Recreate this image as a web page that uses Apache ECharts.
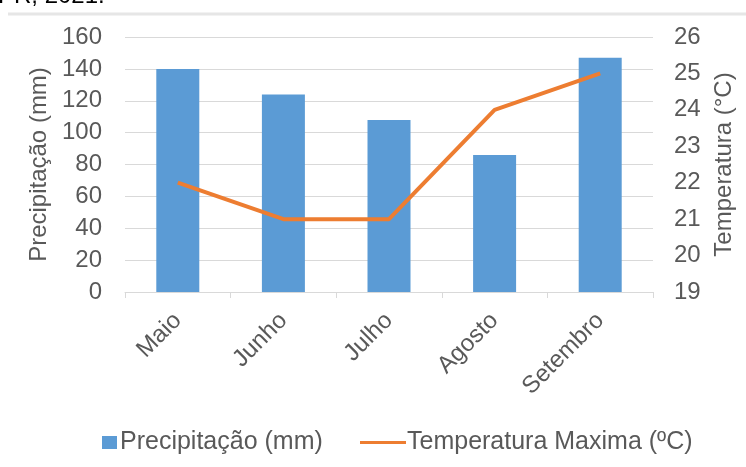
<!DOCTYPE html>
<html>
<head>
<meta charset="utf-8">
<script src="https://cdn.jsdelivr.net/npm/echarts@6/dist/echarts.min.js"></script>
<style>
  html, body { margin: 0; padding: 0; background: #fff; }
  #chart { width: 746px; height: 467px; }
</style>
</head>
<body>
<div id="chart"></div>
<script>
// Monthly rainfall (bars) and maximum temperature (line)
var months = ['Maio', 'Junho', 'Julho', 'Agosto', 'Setembro'];
var precipitation = [140, 124, 108, 86, 147];
var maxTemperature = [22, 21, 21, 24, 25];

var precipitationName = 'Precipitação (mm)';
var temperatureName = 'Temperatura Maxima (ºC)';

var FONT = '"Liberation Sans", Arial, sans-serif';
var TEXT = '#595959';
var GRID = '#D9D9D9';
var FS = 24;
var LEGEND_FS = 25;

var chart = echarts.init(document.getElementById('chart'), null, { renderer: 'canvas' });

chart.setOption({
  animation: false,
  backgroundColor: '#ffffff',
  textStyle: { fontFamily: FONT },
  graphic: [
    {
      type: 'text',
      left: -2,
      top: -16,
      style: { text: 'PR, 2021.', fill: '#000', font: FS + 'px ' + FONT }
    },
    {
      type: 'line',
      shape: { x1: 8, y1: 14, x2: 746, y2: 14 },
      style: { stroke: '#E6E6E6', lineWidth: 3 }
    }
  ],
  legend: [
    {
      left: 97,
      top: 425,
      itemWidth: 15,
      itemHeight: 13,
      itemGap: 0,
      textStyle: { color: TEXT, fontSize: LEGEND_FS, fontFamily: FONT, padding: [0, 0, 0, -2] },
      data: [{ name: precipitationName, icon: 'rect' }]
    },
    {
      left: 355,
      top: 425,
      itemWidth: 46,
      itemHeight: 3,
      itemGap: 0,
      textStyle: { color: TEXT, fontSize: LEGEND_FS, fontFamily: FONT, padding: [0, 0, 0, -4] },
      data: [{ name: temperatureName, icon: 'rect' }]
    }
  ],
  grid: { left: 125, right: 93, top: 37, bottom: 175, containLabel: false },
  xAxis: {
    type: 'category',
    data: months,
    boundaryGap: true,
    axisLine: { show: true, lineStyle: { color: GRID, width: 1 } },
    axisTick: { show: true, length: 6, lineStyle: { color: GRID } },
    axisLabel: {
      rotate: 45,
      margin: 25,
      color: TEXT,
      fontSize: FS,
      fontFamily: FONT
    },
    splitLine: { show: false }
  },
  yAxis: [
    {
      type: 'value',
      min: 0,
      max: 160,
      interval: 20,
      name: 'Precipitação (mm)',
      nameLocation: 'middle',
      nameGap: 72,
      nameRotate: 90,
      nameTextStyle: { color: TEXT, fontSize: FS, fontFamily: FONT },
      axisLine: { show: false },
      axisTick: { show: false },
      axisLabel: { margin: 23, color: TEXT, fontSize: FS, fontFamily: FONT },
      splitLine: { show: true, lineStyle: { color: GRID, width: 1 } }
    },
    {
      type: 'value',
      min: 19,
      max: 26,
      interval: 1,
      name: 'Temperatura (°C)',
      nameLocation: 'middle',
      nameGap: 59,
      nameRotate: 90,
      nameTextStyle: { color: TEXT, fontSize: FS, fontFamily: FONT },
      axisLine: { show: false },
      axisTick: { show: false },
      axisLabel: { margin: 21, color: TEXT, fontSize: FS, fontFamily: FONT },
      splitLine: { show: false }
    }
  ],
  series: [
    {
      name: precipitationName,
      type: 'bar',
      yAxisIndex: 0,
      data: precipitation,
      barWidth: 43,
      itemStyle: { color: '#5B9BD5' }
    },
    {
      name: temperatureName,
      type: 'line',
      yAxisIndex: 1,
      data: maxTemperature,
      showSymbol: false,
      symbol: 'none',
      lineStyle: { color: '#ED7D31', width: 4 },
      itemStyle: { color: '#ED7D31' }
    }
  ]
});
</script>
</body>
</html>
